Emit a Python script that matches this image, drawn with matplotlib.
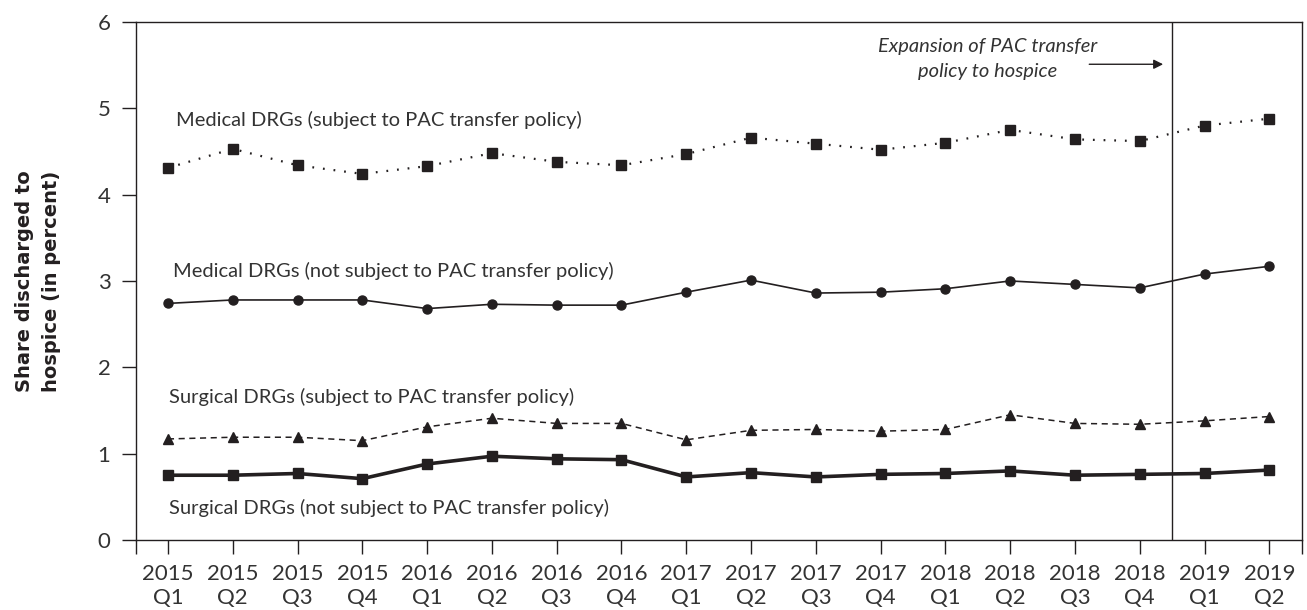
import matplotlib

matplotlib.use("Agg")
import matplotlib.pyplot as plt
from matplotlib.ticker import FixedLocator

quarters = [
    "2015\nQ1", "2015\nQ2", "2015\nQ3", "2015\nQ4",
    "2016\nQ1", "2016\nQ2", "2016\nQ3", "2016\nQ4",
    "2017\nQ1", "2017\nQ2", "2017\nQ3", "2017\nQ4",
    "2018\nQ1", "2018\nQ2", "2018\nQ3", "2018\nQ4",
    "2019\nQ1", "2019\nQ2",
]

medical_subject = [4.31, 4.53, 4.34, 4.24, 4.33, 4.48, 4.38, 4.34,
                   4.47, 4.66, 4.59, 4.52, 4.60, 4.75, 4.64, 4.62, 4.80, 4.88]
medical_not_subject = [2.74, 2.78, 2.78, 2.78, 2.68, 2.73, 2.72, 2.72,
                       2.87, 3.01, 2.86, 2.87, 2.91, 3.00, 2.96, 2.92, 3.08, 3.17]
surgical_subject = [1.17, 1.19, 1.19, 1.15, 1.31, 1.41, 1.35, 1.35,
                    1.16, 1.27, 1.28, 1.26, 1.28, 1.45, 1.35, 1.34, 1.38, 1.43]
surgical_not_subject = [0.75, 0.75, 0.77, 0.71, 0.88, 0.97, 0.94, 0.93,
                        0.73, 0.78, 0.73, 0.76, 0.77, 0.80, 0.75, 0.76, 0.77, 0.81]

series_labels = [
    "Medical DRGs (subject to PAC transfer policy)",
    "Medical DRGs (not subject to PAC transfer policy)",
    "Surgical DRGs (subject to PAC transfer policy)",
    "Surgical DRGs (not subject to PAC transfer policy)",
]
policy_note = "Expansion of PAC transfer\npolicy to hospice"
policy_break = 15.5

ink = "#231f20"
text_ink = "#333333"
light_font = ["Lato", "DejaVu Sans"]

fig = plt.figure(figsize=(13.07, 6.10), dpi=100)
ax = fig.add_axes([0.1037, 0.1148, 0.8923, 0.8492])

x = list(range(len(quarters)))

ax.plot(x, medical_subject, color=ink, lw=1.6, linestyle=(0, (0.8, 4.0)),
        marker="s", markersize=7.5)
ax.plot(x, medical_not_subject, color=ink, lw=1.2, linestyle="-",
        marker="o", markersize=6.5)
ax.plot(x, surgical_subject, color=ink, lw=1.1, linestyle=(0, (4, 3)),
        marker="^", markersize=7.5)
ax.plot(x, surgical_not_subject, color=ink, lw=2.6, linestyle="-",
        marker="s", markersize=7.5)

ax.axvline(policy_break, color=ink, lw=1.0)

label_pos = [(0.13, 4.87), (0.08, 3.12), (0.02, 1.66), (0.02, 0.375)]
for text, (tx, ty) in zip(series_labels, label_pos):
    ax.text(tx, ty, text, ha="left", va="center", fontsize=14.5,
            color=text_ink, family=light_font)

ax.text(12.65, 5.57, policy_note, ha="center", va="center", fontsize=14.5,
        color=text_ink, family=light_font, style="italic",
        linespacing=1.6)
ax.annotate("", xy=(15.36, 5.51), xytext=(14.22, 5.51),
            arrowprops=dict(arrowstyle="-|>", color=ink, lw=1.0,
                            mutation_scale=14, shrinkA=0, shrinkB=0))

ax.set_xlim(-0.5, 17.5)
ax.set_ylim(0, 6)
ax.set_xticks(x)
ax.set_xticklabels(quarters, family=light_font, fontsize=16,
                   color=text_ink, linespacing=1.3)
ax.xaxis.set_minor_locator(FixedLocator([-0.5, 17.5]))
ax.set_yticks(range(7))
ax.set_yticklabels([str(v) for v in range(7)], family=light_font,
                   fontsize=16, color=text_ink)

ax.tick_params(axis="x", which="both", direction="out", length=10,
               width=1.0, color=ink, pad=7)
ax.tick_params(axis="y", direction="out", length=10, width=1.0,
               color=ink, pad=8)

for spine in ax.spines.values():
    spine.set_color(ink)
    spine.set_linewidth(1.0)

fig.text(0.0290, 0.5392, "Share discharged to\nhospice (in percent)",
         rotation=90, ha="center", va="center", multialignment="center",
         fontsize=14, fontweight="bold", color=ink, family="DejaVu Sans",
         linespacing=1.55)

fig.savefig("out.png", dpi=100)
